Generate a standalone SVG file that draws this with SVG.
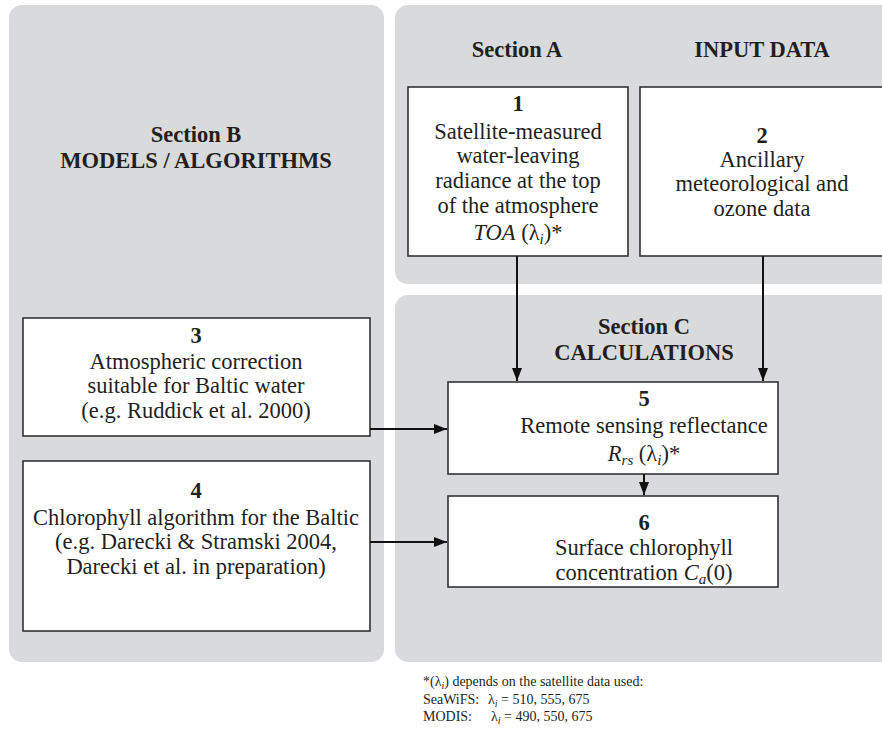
<svg xmlns="http://www.w3.org/2000/svg" width="882" height="735" viewBox="0 0 882 735" font-family="'Liberation Serif', 'DejaVu Serif', serif">
<style>
.panel{fill:#d9dadc}
.box{fill:#fff;stroke:#333;stroke-width:1.6}
text{font-family:'Liberation Serif','DejaVu Serif',serif;fill:#231f20;text-anchor:middle}
.t{font-size:22.5px}
.h{font-size:22.5px;font-weight:bold}
.n{font-size:22.5px;font-weight:bold}
.fn{font-size:14px;text-anchor:start}
.con{stroke:#111;stroke-width:2;fill:none}
</style>
<defs>
<marker id="ah" markerUnits="userSpaceOnUse" markerWidth="14" markerHeight="12" refX="13" refY="6" orient="auto">
<path d="M0,1 L13,6 L0,11 Z" fill="#111"/>
</marker>
</defs>
<g id="panels">
<rect class="panel" x="9" y="5" width="375" height="657" rx="13"/>
<rect class="panel" x="395" y="5" width="500" height="279" rx="13"/>
<rect class="panel" x="395" y="295" width="500" height="367" rx="13"/>
</g>
<g id="headings">
<text class="h" x="517" y="57">Section A</text>
<text class="h" x="762" y="57">INPUT DATA</text>
<text class="h" x="196" y="142">Section B</text>
<text class="h" x="196" y="168">MODELS / ALGORITHMS</text>
<text class="h" x="644" y="334">Section C</text>
<text class="h" x="644" y="360">CALCULATIONS</text>
</g>
<g id="node1">
<rect class="box" x="408" y="87" width="220" height="169"/>
<text class="n" x="518" y="111">1</text>
<text class="t" x="518" y="139">Satellite-measured</text>
<text class="t" x="518" y="163">water-leaving</text>
<text class="t" x="518" y="188">radiance at the top</text>
<text class="t" x="518" y="213">of the atmosphere</text>
<text class="t" x="518" y="240"><tspan font-style="italic">TOA</tspan> (λ<tspan font-style="italic" font-size="15" dy="4">i</tspan><tspan dy="-4">)*</tspan></text>
</g>
<g id="node2">
<rect class="box" x="640" y="87" width="260" height="169"/>
<text class="n" x="762" y="143">2</text>
<text class="t" x="762" y="167">Ancillary</text>
<text class="t" x="762" y="191">meteorological and</text>
<text class="t" x="762" y="216">ozone data</text>
</g>
<g id="node3">
<rect class="box" x="23" y="318" width="347" height="118"/>
<text class="n" x="196" y="343">3</text>
<text class="t" x="196" y="369">Atmospheric correction</text>
<text class="t" x="196" y="393">suitable for Baltic water</text>
<text class="t" x="196" y="418">(e.g. Ruddick et al. 2000)</text>
</g>
<g id="node4">
<rect class="box" x="23" y="461" width="347" height="170"/>
<text class="n" x="196" y="498">4</text>
<text class="t" x="196" y="525">Chlorophyll algorithm for the Baltic</text>
<text class="t" x="196" y="549">(e.g. Darecki &amp; Stramski 2004,</text>
<text class="t" x="196" y="574">Darecki et al. in preparation)</text>
</g>
<g id="node5">
<rect class="box" x="448" y="382" width="330" height="92"/>
<text class="n" x="644" y="406">5</text>
<text class="t" x="644" y="433">Remote sensing reflectance</text>
<text class="t" x="644" y="461"><tspan font-style="italic">R</tspan><tspan font-style="italic" font-size="15" dy="4">rs</tspan><tspan dy="-4"> (λ</tspan><tspan font-style="italic" font-size="15" dy="4">i</tspan><tspan dy="-4">)*</tspan></text>
</g>
<g id="node6">
<rect class="box" x="448" y="496" width="330" height="91"/>
<text class="n" x="644" y="530">6</text>
<text class="t" x="644" y="555">Surface chlorophyll</text>
<text class="t" x="644" y="580">concentration <tspan font-style="italic">C</tspan><tspan font-style="italic" font-size="15" dy="4">a</tspan><tspan dy="-4">(0)</tspan></text>
</g>
<g id="connectors">
<line class="con" x1="517" y1="256" x2="517" y2="381" marker-end="url(#ah)"/>
<line class="con" x1="763" y1="256" x2="763" y2="381" marker-end="url(#ah)"/>
<line class="con" x1="370" y1="429" x2="447" y2="429" marker-end="url(#ah)"/>
<line class="con" x1="370" y1="542" x2="447" y2="542" marker-end="url(#ah)"/>
<line class="con" x1="644" y1="474" x2="644" y2="495" marker-end="url(#ah)"/>
</g>
<g id="footnote">
<text class="fn" x="423" y="686">*(λ<tspan font-style="italic" font-size="10" dy="3">i</tspan><tspan dy="-3">) depends on the satellite data used:</tspan></text>
<text class="fn" x="423" y="704">SeaWiFS: <tspan x="488">λ</tspan><tspan font-style="italic" font-size="10" dy="3">i</tspan><tspan dy="-3"> = 510, 555, 675</tspan></text>
<text class="fn" x="423" y="721">MODIS: <tspan x="491">λ</tspan><tspan font-style="italic" font-size="10" dy="3">i</tspan><tspan dy="-3"> = 490, 550, 675</tspan></text>
</g>
</svg>
